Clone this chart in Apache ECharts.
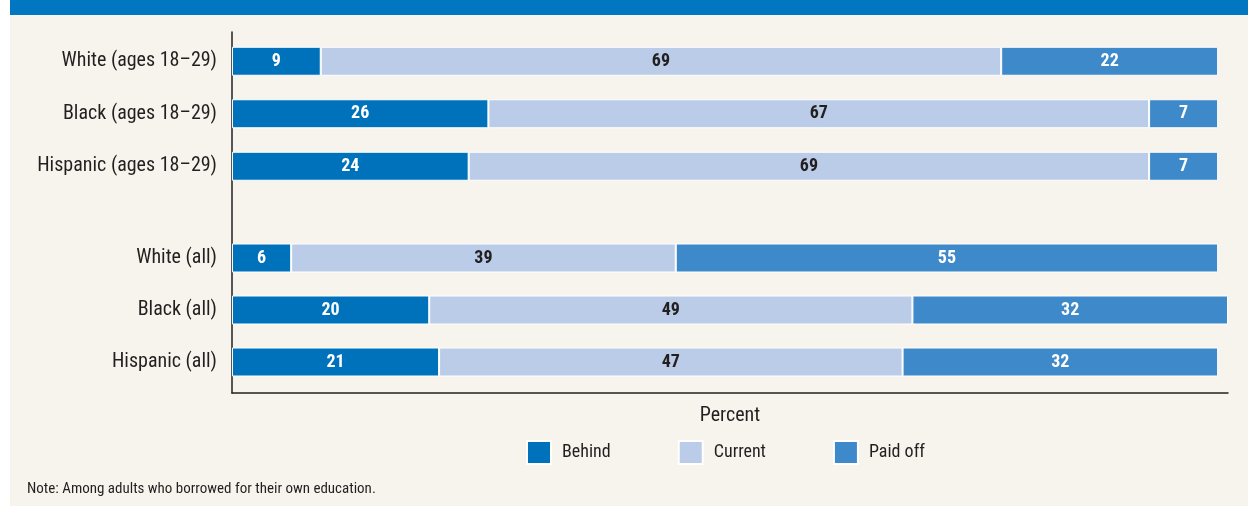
<!DOCTYPE html>
<html>
<head>
<meta charset="utf-8">
<script src="https://cdn.jsdelivr.net/npm/echarts@6/dist/echarts.min.js"></script>
<style>
  html, body { margin: 0; padding: 0; background: #ffffff; }
  #wrap { position: absolute; left: 10px; top: 0; width: 1238px; height: 506px; background: #f7f4ee; }
  #band { position: absolute; left: 0; top: 0; width: 1238px; height: 15px; background: #0077c0; }
  #chart { position: absolute; left: 0; top: 0; width: 1238px; height: 506px; }
</style>
</head>
<body>
<div id="wrap"><div id="chart"></div><div id="band"></div></div>
<script>
// Repayment status of student loans, in percent
const youngGroups = ['White (ages 18–29)', 'Black (ages 18–29)', 'Hispanic (ages 18–29)'];
const allGroups = ['White (all)', 'Black (all)', 'Hispanic (all)'];
const seriesNames = ['Behind', 'Current', 'Paid off'];
const youngBehind = [9, 26, 24];
const youngCurrent = [69, 67, 69];
const youngPaid = [22, 7, 7];
const allBehind = [6, 20, 21];
const allCurrent = [39, 49, 47];
const allPaid = [55, 32, 32];

const colors = ['#0071bb', '#bacce8', '#3d89c9'];
const labelColors = ['#ffffff', '#231f20', '#ffffff'];
const FONT = "'Roboto Condensed', 'Liberation Sans Narrow', 'Roboto', 'Liberation Sans', sans-serif";

const chart = echarts.init(document.getElementById('chart'), null, { renderer: 'canvas' });

function barSeries(name, idx, data, axisIdx) {
  return {
    name: name,
    type: 'bar',
    stack: 'g' + axisIdx,
    xAxisIndex: axisIdx,
    yAxisIndex: axisIdx,
    barWidth: 29,
    data: data,
    itemStyle: { color: colors[idx], borderColor: '#ffffff', borderWidth: 1 },
    label: {
      show: true,
      position: 'inside',
      color: labelColors[idx],
      fontFamily: FONT,
      fontWeight: 'bold',
      fontSize: 18
    },
    emphasis: { disabled: true },
    animation: false
  };
}

const hiddenValueAxis = (gi) => ({
  type: 'value', gridIndex: gi, min: 0, max: 101, show: false
});
const catAxis = (gi, cats) => ({
  type: 'category', gridIndex: gi, data: cats, inverse: true,
  axisLine: { show: false }, axisTick: { show: false },
  axisLabel: { color: '#231f20', fontFamily: FONT, fontSize: 20, margin: 15 }
});

chart.setOption({
  backgroundColor: 'transparent',
  animation: false,
  textStyle: { fontFamily: FONT },
  title: {
    text: 'Note: Among adults who borrowed for their own education.',
    left: 12, top: 477,
    textStyle: { color: '#231f20', fontFamily: FONT, fontSize: 15, fontWeight: 'normal' }
  },
  legend: {
    data: seriesNames,
    left: 516, top: 440, padding: 0,
    itemWidth: 24, itemHeight: 23, itemGap: 67,
    icon: 'rect',
    textStyle: { color: '#231f20', fontFamily: FONT, fontSize: 18, padding: [0, 0, 0, 6] }
  },
  grid: [
    // frame carrying the axis lines and the axis title
    { left: 222, width: 996, top: 32, height: 361 },
    { left: 222, width: 996, top: 35, height: 157.5 },
    { left: 222, width: 996, top: 232, height: 156 }
  ],
  xAxis: [
    {
      type: 'value', gridIndex: 0, min: 0, max: 101,
      name: 'Percent', nameLocation: 'middle', nameGap: 13,
      nameTextStyle: { color: '#231f20', fontFamily: FONT, fontSize: 20 },
      axisLine: { show: true, lineStyle: { color: '#231f20', width: 1.5 } },
      axisTick: { show: false }, axisLabel: { show: false }, splitLine: { show: false }
    },
    hiddenValueAxis(1),
    hiddenValueAxis(2)
  ],
  yAxis: [
    {
      type: 'category', gridIndex: 0, data: [],
      axisLine: { show: true, lineStyle: { color: '#231f20', width: 1.5 } },
      axisTick: { show: false }, axisLabel: { show: false }, splitLine: { show: false }
    },
    catAxis(1, youngGroups),
    catAxis(2, allGroups)
  ],
  series: [
    barSeries(seriesNames[0], 0, youngBehind, 1),
    barSeries(seriesNames[1], 1, youngCurrent, 1),
    barSeries(seriesNames[2], 2, youngPaid, 1),
    barSeries(seriesNames[0], 0, allBehind, 2),
    barSeries(seriesNames[1], 1, allCurrent, 2),
    barSeries(seriesNames[2], 2, allPaid, 2)
  ]
});
</script>
</body>
</html>
